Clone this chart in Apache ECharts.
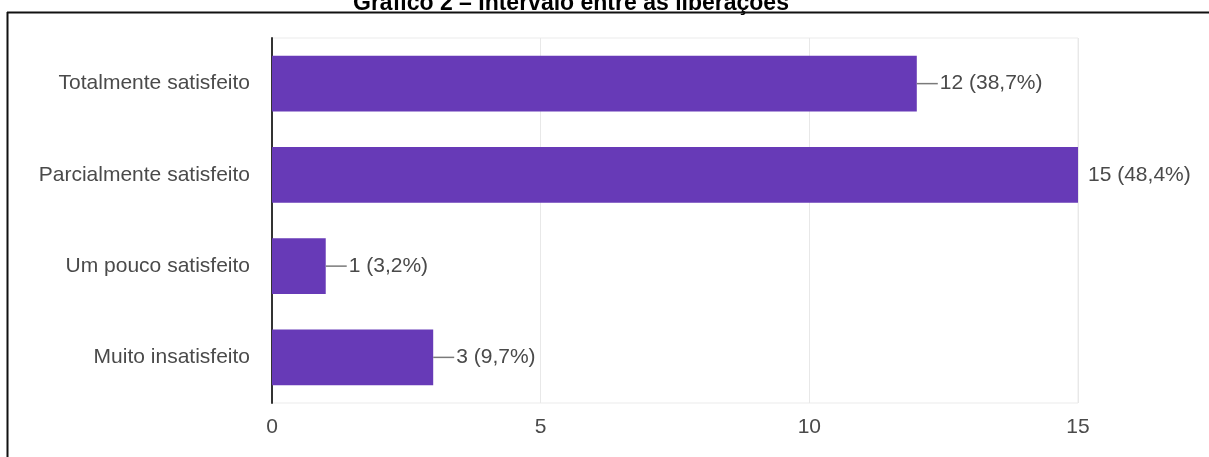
<!DOCTYPE html>
<html>
<head>
<meta charset="utf-8">
<script src="https://cdn.jsdelivr.net/npm/echarts@6/dist/echarts.min.js"></script>
<style>
html,body{margin:0;padding:0;background:#fff;}
#c{width:1209px;height:457px;}
</style>
</head>
<body>
<div id="c"></div>
<script>
const titleText = 'Gráfico 2 – Intervalo entre as liberações';
const categories = ['Totalmente satisfeito', 'Parcialmente satisfeito', 'Um pouco satisfeito', 'Muito insatisfeito'];
const values = [12, 15, 1, 3];
const xTicks = [0, 5, 10, 15];

const total = values.reduce((a, b) => a + b, 0);
const maxVal = Math.max(...values);
const pct = v => (v / total * 100).toFixed(1).replace('.', ',') + '%';

const chart = echarts.init(document.getElementById('c'));
const font = 'Liberation Sans, Arial, sans-serif';

const data = values.map(v => {
  const txt = v + ' (' + pct(v) + ')';
  if (v === maxVal) {
    return { value: v, label: { distance: 10, formatter: txt } };
  }
  return { value: v, label: { distance: 0, formatter: '{l|}{t|' + txt + '}' } };
});

chart.setOption({
  animation: false,
  backgroundColor: '#fff',
  title: {
    text: titleText,
    left: 353,
    top: -8,
    padding: 0,
    textStyle: { fontFamily: font, fontWeight: 'bold', fontSize: 23, color: '#000' }
  },
  graphic: [
    { type: 'line', shape: { x1: 7, y1: 12.5, x2: 1209, y2: 12.5 }, style: { stroke: '#111', lineWidth: 2 }, z: 10 },
    { type: 'line', shape: { x1: 7.5, y1: 12, x2: 7.5, y2: 457 }, style: { stroke: '#111', lineWidth: 2 }, z: 10 }
  ],
  grid: {
    left: 272, right: 131, top: 38, bottom: 54,
    show: true, borderColor: '#ebebeb', borderWidth: 1
  },
  xAxis: {
    type: 'value',
    min: 0, max: 15, interval: 5,
    axisLine: { show: false },
    axisTick: { show: false },
    splitLine: { lineStyle: { color: '#e8e8e8', width: 1 } },
    axisLabel: {
      margin: 14,
      fontFamily: font, fontSize: 21, color: '#4a4a4a',
      formatter: v => xTicks.includes(v) ? String(v) : ''
    }
  },
  yAxis: {
    type: 'category',
    inverse: true,
    data: categories,
    axisLine: { show: true, onZero: false, lineStyle: { color: '#333', width: 2 } },
    axisTick: { show: false },
    splitLine: { show: false },
    axisLabel: { margin: 22, fontFamily: font, fontSize: 21, color: '#4a4a4a' }
  },
  series: [{
    type: 'bar',
    data: data,
    barWidth: '61%',
    itemStyle: { color: '#673ab7' },
    label: {
      show: true,
      position: 'right',
      fontFamily: font, fontSize: 21, color: '#4a4a4a',
      rich: {
        l: { width: 21, height: 1.5, backgroundColor: '#7a7a7a', verticalAlign: 'middle' },
        t: { fontFamily: font, fontSize: 21, color: '#4a4a4a', padding: [0, 0, 0, 2] }
      }
    }
  }]
});
</script>
</body>
</html>
